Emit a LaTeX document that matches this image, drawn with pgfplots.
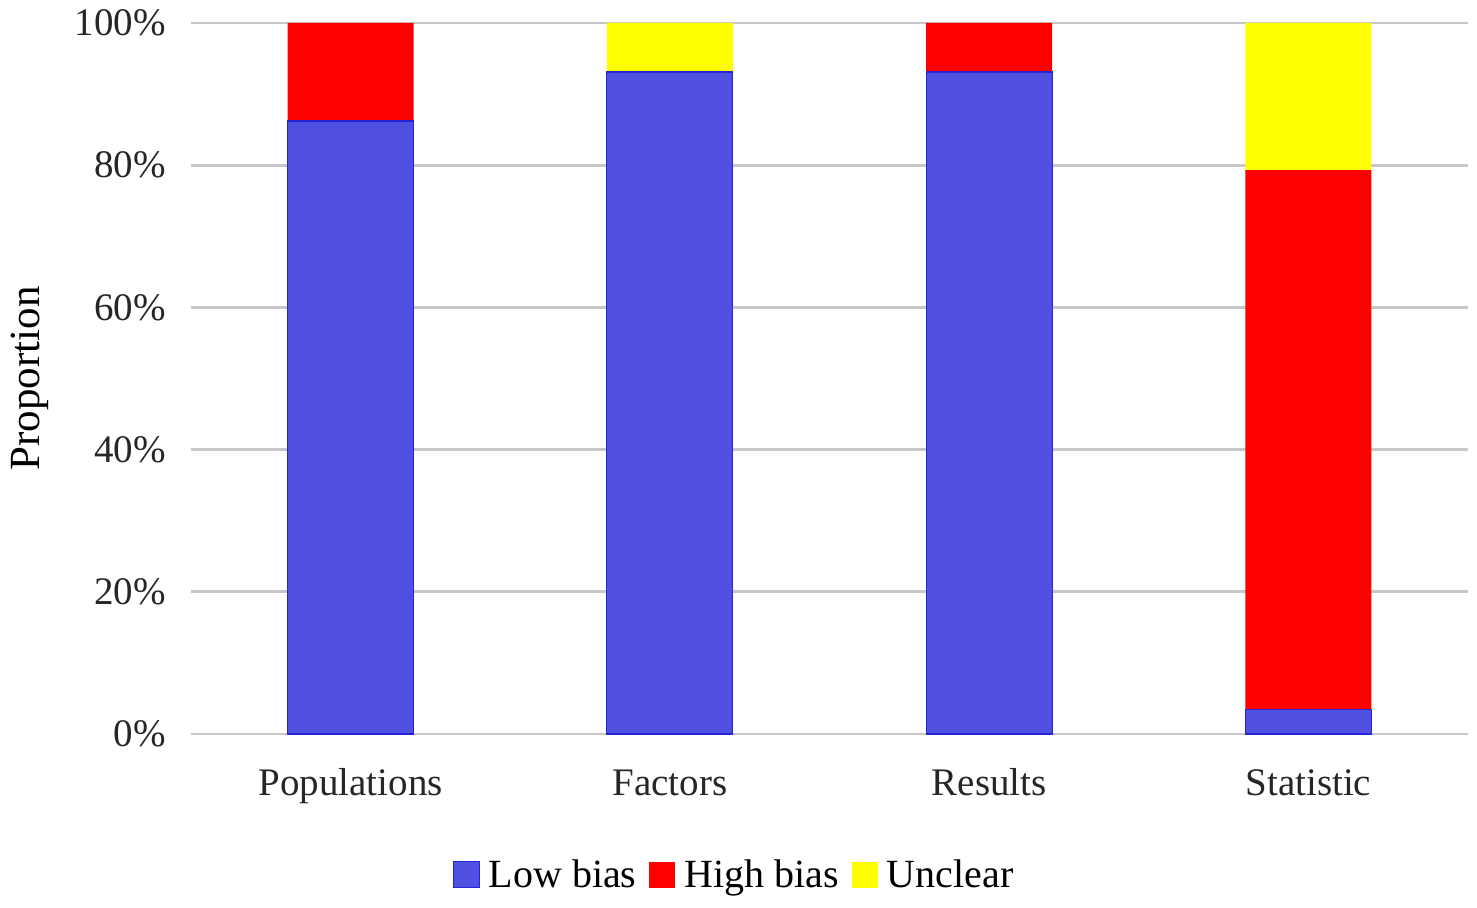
\documentclass[border=0pt]{standalone}
\usepackage{fontspec}
\setmainfont{Liberation Serif}
\usepackage{pgfplots}
\pgfplotsset{compat=1.18}
\definecolor{lowb}{HTML}{4F4FE0}
\definecolor{lowbd}{HTML}{2323D8}
\definecolor{highb}{HTML}{FF0000}
\definecolor{uncl}{HTML}{FFFF00}
\begin{document}
\begin{tikzpicture}
\begin{axis}[
  scale only axis, width=638.5pt, height=355.5pt,
  ybar stacked, bar width=63pt,
  xmin=-0.5, xmax=3.5, ymin=0, ymax=100,
  xtick={0,1,2,3}, xticklabels={Populations,Factors,Results,Statistic},
  ytick={0,20,40,60,80,100},
  yticklabel={\pgfmathprintnumber{\tick}\%},
  /pgf/number format/assume math mode=true,
  ymajorgrids, grid style={line width=1.4pt, color=black!22},
  axis line style={draw=none}, major tick length=0pt,
  tick label style={font=\fontsize{19.5}{23}\selectfont, text=black!85},
  yticklabel style={xshift=-9pt},
  xticklabel style={yshift=-20.5pt, text height=0.69em, text depth=0.22em},
  ylabel={Proportion},
  ylabel style={font=\fontsize{21.5}{25}\selectfont, at={(axis description cs:-0.126,0.5)}, anchor=center},
  legend style={at={(axis description cs:0.426,-0.198)}, anchor=center, legend columns=-1, draw=none, fill=none,
     font=\fontsize{20}{23}\selectfont,
     /tikz/every odd column/.append style={column sep=2.5pt},
     /tikz/every even column/.append style={column sep=4.5pt}},
  legend image code/.code={\fill[#1] (0pt,-6.5pt) rectangle (13pt,6.5pt);},
  clip=false,
]
\addplot[fill=lowb, draw=lowbd, line width=0.6pt] coordinates {(0,86.2) (1,93.1) (2,93.1) (3,3.45)};
\addplot[fill=highb, draw=none] coordinates {(0,13.8) (1,0) (2,6.9) (3,75.85)};
\addplot[fill=uncl, draw=none] coordinates {(0,0) (1,6.9) (2,0) (3,20.7)};
\legend{Low bias, High bias, Unclear}
\path (rel axis cs:-0.1496,-0.2447) (rel axis cs:1.0071,1.0323);
\end{axis}
\end{tikzpicture}
\end{document}
